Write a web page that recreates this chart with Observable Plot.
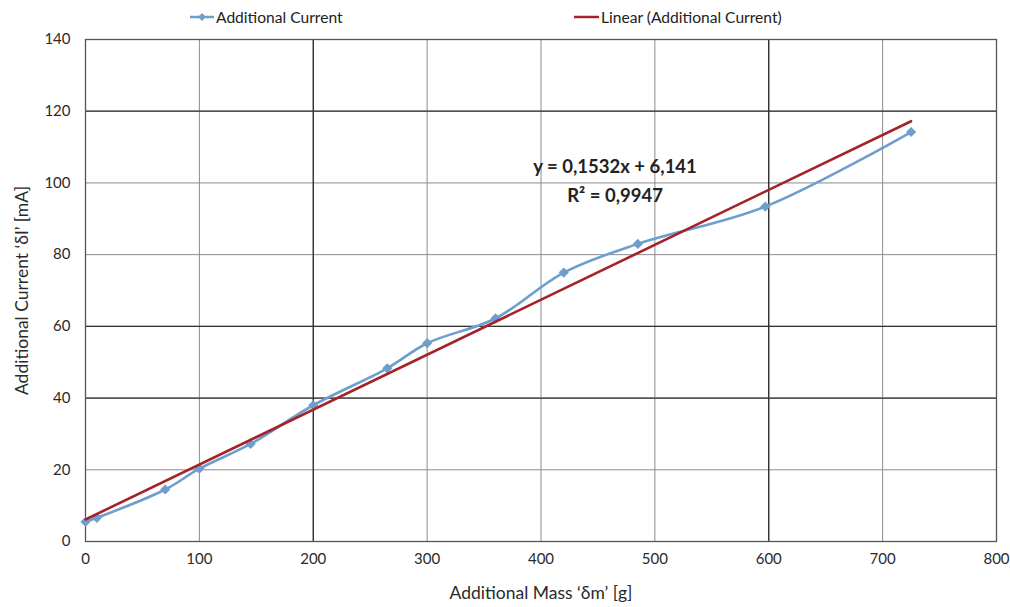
<!DOCTYPE html>
<html>
<head>
<meta charset="utf-8">
<script src="https://cdn.jsdelivr.net/npm/d3@7"></script>
<script src="https://cdn.jsdelivr.net/npm/@observablehq/plot@0.6"></script>
<style>
  body { margin: 0; background: #fff; font-family: Lato, "Open Sans", sans-serif; }
  #wrap { position: relative; width: 1010px; height: 607px; }
  #legend { position: relative; height: 30px; width: 1010px; font-size: 15.6px; color: #222; }
  .item { position: absolute; top: 8px; display: flex; align-items: center; }
  .item svg { margin-right: 2px; }
</style>
</head>
<body>
<div id="wrap">
  <div id="legend">
    <div class="item" style="left:190px"><svg width="24" height="10"><line x1="0" y1="5" x2="24" y2="5" stroke="#6e9fcc" stroke-width="2.5"/><path d="M12,1 L16,5 L12,9 L8,5 Z" fill="#6e9fcc"/></svg><span>Additional Current</span></div>
    <div class="item" style="left:574px"><svg width="25" height="10"><line x1="0" y1="5" x2="25" y2="5" stroke="#a3232a" stroke-width="2.5"/></svg><span>Linear (Additional Current)</span></div>
  </div>
  <div id="chart"></div>
</div>
<script>
const massG = [0, 10, 70, 100, 145, 200, 265, 300, 360, 420, 485, 597, 725];
const currentMA = [5.5, 6.6, 14.5, 20.3, 27.2, 38, 48.3, 55.3, 62.2, 75, 83, 93.4, 114.2];
const slope = 0.1532, intercept = 6.141;
const trendX = [0, 725];
const xTicks = [0, 100, 200, 300, 400, 500, 600, 700, 800];
const yTicks = [0, 20, 40, 60, 80, 100, 120, 140];
const darkGridX = [200, 600];
const darkGridY = [40, 60, 120];
const equationLines = ["y = 0,1532x + 6,141", "R² = 0,9947"];
const equationPos = [{x: 465, y: 104.5}, {x: 465, y: 96.2}];

const points = massG.map((m, i) => ({m, c: currentMA[i]}));
const trend = trendX.map(m => ({m, c: slope * m + intercept}));
const eq = equationLines.map((t, i) => ({t, ...equationPos[i]}));

const plot = Plot.plot({
  width: 1010,
  height: 577,
  marginTop: 9,
  marginBottom: 66,
  marginLeft: 85,
  marginRight: 14,
  style: {fontFamily: "Lato, 'Open Sans', sans-serif", fontSize: "15px", color: "#2a2a2a"},
  x: {domain: [0, 800], ticks: xTicks, tickSize: 0, tickPadding: 12, label: "Additional Mass ‘δm’ [g]", labelArrow: "none", labelAnchor: "center", labelOffset: 57},
  y: {domain: [0, 140], ticks: yTicks, tickSize: 0, tickPadding: 15, label: "Additional Current ‘δI’ [mA]", labelArrow: "none", labelAnchor: "center", labelOffset: 70},
  marks: [
    Plot.ruleX(xTicks.filter(d => d > 0 && d < 800), {stroke: "#8c8c8c", strokeWidth: 1}),
    Plot.ruleY(yTicks.filter(d => d > 0 && d < 140), {stroke: "#8c8c8c", strokeWidth: 1}),
    Plot.ruleX(darkGridX, {stroke: "#222", strokeWidth: 1.2}),
    Plot.ruleY(darkGridY, {stroke: "#333", strokeWidth: 1.2}),
    Plot.frame({stroke: "#555", strokeWidth: 1.3}),
    Plot.line(points, {x: "m", y: "c", stroke: "#6e9fcc", strokeWidth: 2.6, curve: "catmull-rom"}),
    Plot.dot(points, {x: "m", y: "c", symbol: "diamond2", r: 4.6, fill: "#6e9fcc", stroke: "none"}),
    Plot.line(trend, {x: "m", y: "c", stroke: "#a3232a", strokeWidth: 2.6}),
    Plot.text(eq, {x: "x", y: "y", text: "t", fontWeight: "bold", fontSize: 18.5, fill: "#222", textAnchor: "middle"})
  ]
});
plot.querySelectorAll('[aria-label="x-axis label"] text, [aria-label="y-axis label"] text').forEach(t => {
  t.setAttribute("font-size", "17.5");
  t.style.fontSize = "17.5px";
});
document.getElementById("chart").appendChild(plot);
</script>
</body>
</html>
